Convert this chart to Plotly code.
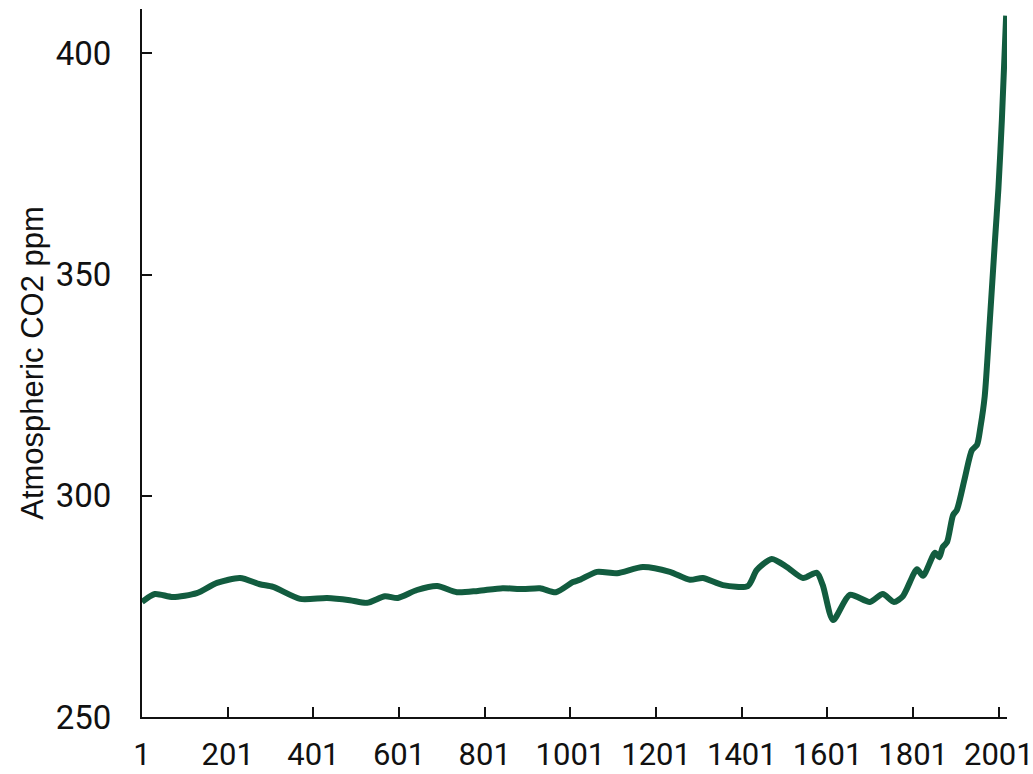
import plotly.graph_objects as go

# years and CO2 readings (ppm)
years = [1, 31, 73, 129, 176, 230, 276, 307, 370, 433, 486, 526, 568, 598,
         643, 690, 736, 785, 843, 890, 930, 967, 1007, 1023, 1063, 1110,
         1170, 1233, 1280, 1310, 1357, 1415, 1436, 1471, 1506, 1544, 1576,
         1590, 1614, 1653, 1700, 1730, 1756, 1777, 1810, 1824, 1852, 1862,
         1870, 1880, 1894, 1903, 1922, 1938, 1950, 1958, 1968, 1980, 1992,
         2000, 2008, 2018]
co2_ppm = [276.0, 277.8, 277.1, 278.0, 280.3, 281.4, 280.0, 279.4, 276.7,
           276.9, 276.4, 275.8, 277.3, 276.9, 278.7, 279.6, 278.2, 278.5,
           279.1, 278.9, 279.1, 278.2, 280.5, 281.0, 282.8, 282.5, 283.9,
           282.8, 281.0, 281.4, 279.8, 279.6, 283.2, 285.7, 283.9, 281.4,
           282.6, 279.8, 271.9, 277.6, 276.0, 277.8, 276.0, 277.3, 283.4,
           281.9, 287.1, 286.1, 288.4, 289.5, 295.6, 296.8, 304.2, 310.3,
           311.5, 315.5, 322.5, 339.7, 357.8, 369.5, 384.9, 408.5]

x_ticks = [1, 201, 401, 601, 801, 1001, 1201, 1401, 1601, 1801, 2001]
y_ticks = [250, 300, 350, 400]

fig = go.Figure(go.Scatter(
    x=years, y=co2_ppm, mode="lines",
    line=dict(color="#125c3f", width=6, shape="spline", smoothing=0.7),
    hoverinfo="x+y",
))

fig.update_layout(
    width=1033, height=774,
    margin=dict(l=142, r=26, t=9, b=57),
    paper_bgcolor="white", plot_bgcolor="white",
    showlegend=False,
    font=dict(family="Roboto", size=33, color="#111"),
)
fig.update_xaxes(
    range=[1, 2020], tickvals=x_ticks, automargin=False,
    showline=True, linecolor="#111", linewidth=2,
    ticks="inside", ticklen=10, tickwidth=1.5, tickcolor="#111",
    showgrid=False, zeroline=False, ticklabelstandoff=9,
    ticklabeloverflow="allow", tickfont=dict(size=31),
)
fig.update_yaxes(
    range=[250, 410], tickvals=y_ticks, automargin=False,
    showline=True, linecolor="#111", linewidth=2,
    ticks="inside", ticklen=10, tickwidth=1.5, tickcolor="#111",
    showgrid=False, zeroline=False, ticklabelstandoff=22,
    title=dict(text="Atmospheric CO2 ppm", standoff=3,
               font=dict(family="Liberation Sans", size=31)),
)

# drop the page's default body margin so the figure sits at the top-left corner
fig.write_html("out.html", config={"displayModeBar": False},
               post_script="document.body.style.margin='0';")
